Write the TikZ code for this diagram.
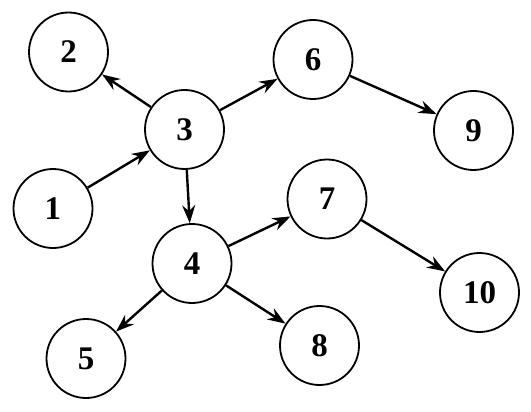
\documentclass[tikz,border=0pt]{standalone}
\usepackage{fontspec}
\setmainfont{Liberation Serif}
\usetikzlibrary{arrows.meta}
\begin{document}
\begin{tikzpicture}[x=1pt,y=-1pt,
  vnode/.style={circle,draw,line width=1.8pt,minimum size=79pt,inner sep=0pt,font=\fontsize{33}{33}\selectfont\bfseries},
  edge/.style={line width=2.4pt,-{Stealth[length=18pt,width=13pt,inset=6pt]}}]
\useasboundingbox (0,0) rectangle (531,412);
\node[vnode] (n1) at (53,208.5) {1};
\node[vnode] (n2) at (68.5,52) {2};
\node[vnode] (n3) at (184.5,129.5) {3};
\node[vnode] (n4) at (192,263.5) {4};
\node[vnode] (n5) at (86,358.5) {5};
\node[vnode] (n6) at (313,59.5) {6};
\node[vnode] (n7) at (327,199) {7};
\node[vnode] (n8) at (319.5,345.5) {8};
\node[vnode] (n9) at (473.5,130.5) {9};
\node[vnode] (n10) at (479.5,292.5) {10};
\draw[edge] (n1) -- (n3);
\draw[edge] (n3) -- (n2);
\draw[edge] (n3) -- (n6);
\draw[edge] (n3) -- (n4);
\draw[edge] (n6) -- (n9);
\draw[edge] (n4) -- (n7);
\draw[edge] (n4) -- (n5);
\draw[edge] (n4) -- (n8);
\draw[edge] (n7) -- (n10);
\end{tikzpicture}
\end{document}
